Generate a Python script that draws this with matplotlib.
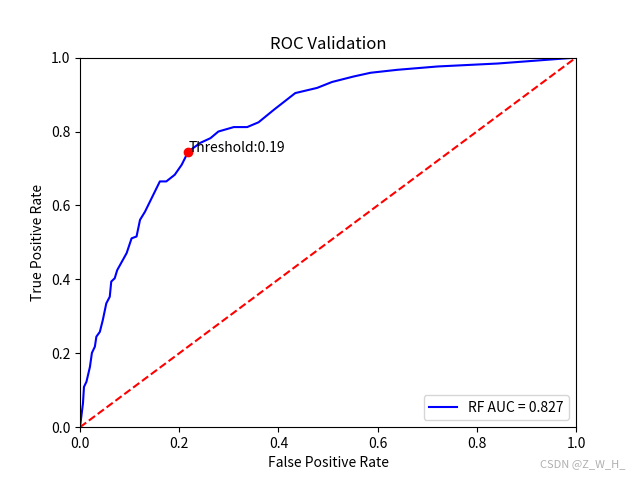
import matplotlib
matplotlib.use("Agg")
import matplotlib.pyplot as plt

plt.rcParams['font.family'] = ['Noto Sans CJK SC', 'DejaVu Sans']
plt.rcParams['axes.unicode_minus'] = False

fpr = [0.0, 0.006, 0.008, 0.013, 0.020, 0.024, 0.030, 0.033, 0.040, 0.046, 0.053, 0.060,
       0.063, 0.070, 0.075, 0.094, 0.104, 0.114, 0.121, 0.131, 0.161, 0.174, 0.191, 0.205,
       0.218, 0.242, 0.263, 0.279, 0.310, 0.337, 0.360, 0.391, 0.434, 0.478, 0.508, 0.552,
       0.586, 0.640, 0.721, 0.842, 1.0]
tpr = [0.0, 0.065, 0.109, 0.123, 0.163, 0.201, 0.218, 0.245, 0.258, 0.290, 0.335, 0.353,
       0.394, 0.403, 0.425, 0.471, 0.511, 0.516, 0.561, 0.583, 0.665, 0.665, 0.683, 0.710,
       0.745, 0.769, 0.782, 0.800, 0.812, 0.812, 0.825, 0.859, 0.904, 0.918, 0.934, 0.949,
       0.959, 0.967, 0.976, 0.984, 1.0]
auc_label = 'RF AUC = 0.827'
thr_point = (0.218, 0.745)
thr_text = 'Threshold:0.19'

fig = plt.figure(figsize=(6.4, 4.8), dpi=100)
ax = fig.add_subplot(111)
ax.plot(fpr, tpr, 'b', label=auc_label)
ax.plot([0, 1], [0, 1], 'r--')
ax.plot(thr_point[0], thr_point[1], 'ro')
ax.text(thr_point[0], thr_point[1], thr_text)
ax.legend(loc='lower right')
ax.set_xlim(0, 1)
ax.set_ylim(0, 1)
ax.set_title('ROC Validation')
ax.set_xlabel('False Positive Rate')
ax.set_ylabel('True Positive Rate')
fig.text(0.977, 0.022, 'CSDN @Z_W_H_', ha='right', va='bottom', color='#b0b0b0', fontsize=8)
fig.savefig('out.png', dpi=100)
